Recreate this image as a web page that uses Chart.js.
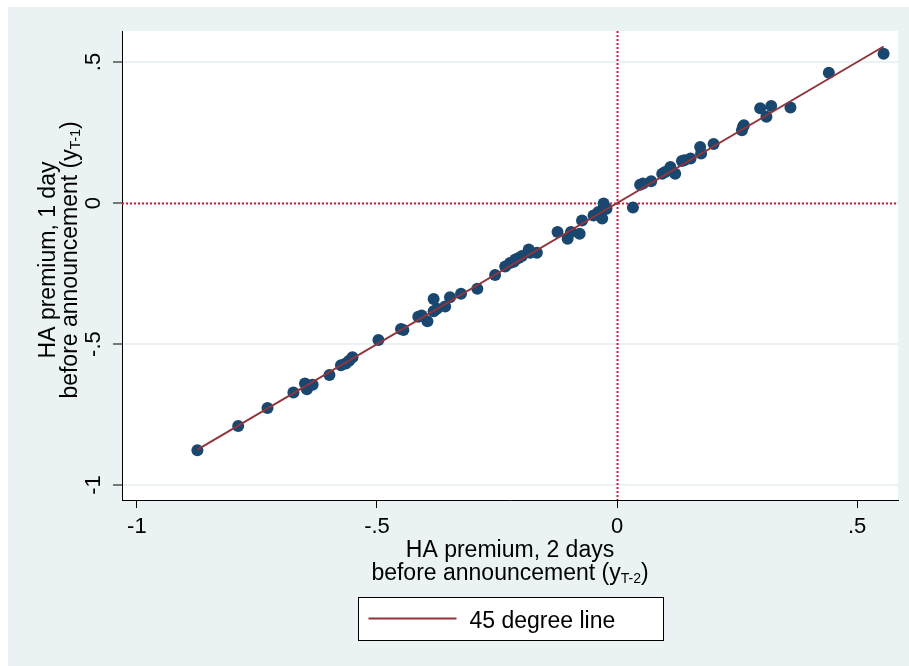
<!DOCTYPE html>
<html>
<head>
<meta charset="utf-8">
<script src="https://cdn.jsdelivr.net/npm/chart.js@4"></script>
<style>
  html, body { margin: 0; padding: 0; background: #fff; }
</style>
</head>
<body>
<canvas id="c" width="909" height="666"></canvas>
<script>
  // --- Data ---
  const xTicks = [-1, -0.5, 0, 0.5];
  const yTicks = [-1, -0.5, 0, 0.5];

  // HA premium 2 days before (x) vs 1 day before (y)
  const premT2 = [
    -0.874, -0.789, -0.728, -0.674, -0.650, -0.646, -0.634, -0.599, -0.575, -0.565,
    -0.558, -0.551, -0.497, -0.450, -0.445, -0.414, -0.407, -0.395, -0.382, -0.382,
    -0.375, -0.358, -0.348, -0.325, -0.291, -0.254, -0.233, -0.223, -0.215, -0.212,
    -0.205, -0.198, -0.184, -0.181, -0.167, -0.124, -0.103, -0.096, -0.078, -0.073,
    -0.049, -0.039, -0.031, -0.028, -0.022,
    0.033, 0.048, 0.054, 0.071, 0.094, 0.100, 0.111, 0.121, 0.135, 0.140,
    0.153, 0.173, 0.175, 0.201, 0.262, 0.264, 0.260, 0.298, 0.311, 0.321,
    0.361, 0.441, 0.555
  ];
  const premT1 = [
    -0.877, -0.791, -0.727, -0.672, -0.640, -0.660, -0.644, -0.610, -0.575, -0.569,
    -0.559, -0.547, -0.486, -0.447, -0.450, -0.403, -0.399, -0.419, -0.340, -0.384,
    -0.375, -0.367, -0.334, -0.322, -0.304, -0.255, -0.225, -0.213, -0.208, -0.200,
    -0.195, -0.188, -0.165, -0.176, -0.176, -0.103, -0.127, -0.103, -0.109, -0.062,
    -0.044, -0.032, -0.055, -0.002, -0.020,
    -0.016, 0.065, 0.069, 0.077, 0.104, 0.110, 0.128, 0.104, 0.149, 0.152,
    0.158, 0.199, 0.176, 0.209, 0.270, 0.276, 0.258, 0.336, 0.306, 0.344,
    0.339, 0.462, 0.529
  ];

  // 45 degree line endpoints
  const lineX = [-0.874, 0.555];
  const lineY = [-0.874, 0.555];

  const xTitle = ["HA premium, 2 days", ["before announcement (y", "T-2", ")"]];
  const yTitle = ["HA premium, 1 day", ["before announcement (y", "T-1", ")"]];
  const legendLabel = "45 degree line";

  // Colours (Stata s2color look)
  const NAVY = "#1a476f";
  const MAROON = "#90353b";
  const REF_RED = "#cf1d3f";
  const BG = "#eaf2f3";
  const FAMILY = "'Liberation Sans', Arial, sans-serif";
  const font = px => px + "px " + FAMILY;

  const fmtTick = v => v === 0 ? "0" : String(v).replace("0.", ".");

  // text with a subscript, centred on cx
  function drawRich(ctx, parts, cx, baseY) {
    ctx.font = font(23);
    const w0 = ctx.measureText(parts[0]).width;
    const w2 = ctx.measureText(parts[2]).width;
    ctx.font = font(14);
    const w1 = ctx.measureText(parts[1]).width;
    let x = cx - (w0 + w1 + w2) / 2;
    ctx.textAlign = "left";
    ctx.textBaseline = "alphabetic";
    ctx.font = font(23); ctx.fillText(parts[0], x, baseY); x += w0;
    ctx.font = font(14); ctx.fillText(parts[1], x, baseY + 3); x += w1;
    ctx.font = font(23); ctx.fillText(parts[2], x, baseY);
  }

  const background = {
    id: "background",
    beforeDraw(chart) {
      const { ctx, chartArea: a } = chart;
      ctx.save();
      ctx.fillStyle = "#fff";
      ctx.fillRect(0, 0, chart.width, chart.height);
      ctx.fillStyle = BG;
      ctx.fillRect(8, 7, chart.width - 8, chart.height - 7);
      ctx.fillStyle = "#fff";
      ctx.fillRect(a.left, a.top, a.right - a.left, a.bottom - a.top);
      ctx.restore();
    }
  };

  const refLines = {
    id: "refLines",
    beforeDatasetsDraw(chart) {
      const { ctx, chartArea: a, scales } = chart;
      const x0 = Math.round(scales.x.getPixelForValue(0)) + 0.5;
      const y0 = Math.round(scales.y.getPixelForValue(0)) + 0.5;
      ctx.save();
      ctx.strokeStyle = REF_RED;
      ctx.lineWidth = 2;
      ctx.setLineDash([2, 2]);
      ctx.beginPath();
      ctx.moveTo(a.left, y0); ctx.lineTo(a.right, y0);
      ctx.moveTo(x0, a.top); ctx.lineTo(x0, a.bottom);
      ctx.stroke();
      ctx.restore();
    }
  };

  const annotations = {
    id: "annotations",
    afterDraw(chart) {
      const { ctx, chartArea: a, scales } = chart;
      ctx.save();
      ctx.fillStyle = "#000";

      // y tick labels, rotated like Stata
      ctx.font = font(22);
      ctx.textAlign = "center";
      ctx.textBaseline = "alphabetic";
      yTicks.forEach(v => {
        ctx.save();
        ctx.translate(100, scales.y.getPixelForValue(v));
        ctx.rotate(-Math.PI / 2);
        ctx.fillText(fmtTick(v), 0, 0);
        ctx.restore();
      });

      // x axis title
      const cx = (a.left + a.right) / 2;
      ctx.font = font(23);
      ctx.textAlign = "center";
      ctx.fillText(xTitle[0], cx, 557);
      drawRich(ctx, xTitle[1], cx, 580);

      // y axis title
      const cy = 260;
      ctx.save();
      ctx.translate(55, cy);
      ctx.rotate(-Math.PI / 2);
      ctx.font = font(23);
      ctx.textAlign = "center";
      ctx.fillText(yTitle[0], 0, 0);
      ctx.restore();
      ctx.save();
      ctx.translate(77, cy);
      ctx.rotate(-Math.PI / 2);
      drawRich(ctx, yTitle[1], 0, 0);
      ctx.restore();

      // legend
      const bw = 305, bh = 43, bx = Math.round(cx - bw / 2) + 0.5, by = 597.5;
      ctx.fillStyle = "#fff";
      ctx.fillRect(bx, by, bw, bh);
      ctx.strokeStyle = "#000";
      ctx.lineWidth = 1;
      ctx.strokeRect(bx, by, bw, bh);
      ctx.strokeStyle = MAROON;
      ctx.lineWidth = 2;
      ctx.beginPath();
      ctx.moveTo(bx + 10, 618.5); ctx.lineTo(bx + 98, 618.5);
      ctx.stroke();
      ctx.fillStyle = "#000";
      ctx.font = font(23);
      ctx.textAlign = "left";
      ctx.fillText(legendLabel, bx + 111, 628);
      ctx.restore();
    }
  };

  new Chart(document.getElementById("c"), {
    type: "scatter",
    data: {
      datasets: [
        {
          label: legendLabel,
          data: lineX.map((x, i) => ({ x, y: lineY[i] })),
          showLine: true,
          borderColor: MAROON,
          borderWidth: 2,
          pointRadius: 0,
          fill: false
        },
        {
          label: "points",
          data: premT2.map((x, i) => ({ x, y: premT1[i] })),
          backgroundColor: NAVY,
          borderWidth: 0,
          pointRadius: 6,
          pointHoverRadius: 6
        }
      ]
    },
    options: {
      responsive: false,
      animation: false,
      devicePixelRatio: 1,
      layout: { padding: { top: 31, right: 11, left: 0, bottom: 0 } },
      plugins: { legend: { display: false }, tooltip: { enabled: false } },
      scales: {
        x: {
          type: "linear",
          min: -1.031,
          max: 0.585,
          afterBuildTicks: s => { s.ticks = xTicks.map(v => ({ value: v })); },
          afterFit: s => { s.height = 166; },
          ticks: {
            color: "#000",
            font: { family: FAMILY, size: 22 },
            padding: 6,
            maxRotation: 0,
            callback: v => fmtTick(v)
          },
          grid: { drawOnChartArea: false, tickLength: 8, tickColor: "#000", tickWidth: 1 },
          border: { color: "#000", width: 1 }
        },
        y: {
          type: "linear",
          min: -1.053,
          max: 0.61,
          afterBuildTicks: s => { s.ticks = yTicks.map(v => ({ value: v })); },
          afterFit: s => { s.width = 122; },
          ticks: { display: false },
          grid: { color: BG, lineWidth: 2, tickLength: 9, tickColor: "#000", tickWidth: 1 },
          border: { color: "#000", width: 1 }
        }
      }
    },
    plugins: [background, refLines, annotations]
  });
</script>
</body>
</html>
